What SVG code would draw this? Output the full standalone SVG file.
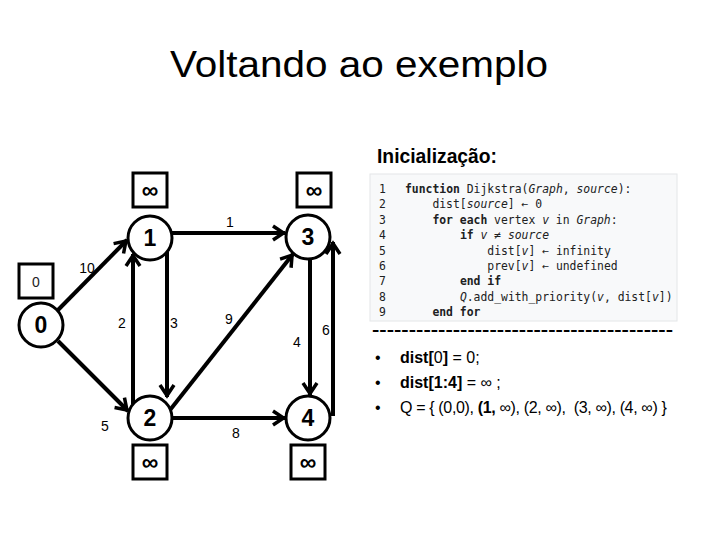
<svg xmlns="http://www.w3.org/2000/svg" width="720" height="540" viewBox="0 0 720 540">
<style>
  .title{font-family:"Liberation Sans",Arial,sans-serif;font-size:36px;fill:#000}
  .sub{font-family:"Liberation Sans",Arial,sans-serif;font-size:20px;font-weight:bold;fill:#000}
  .node circle{fill:#fff;stroke:#000;stroke-width:3}
  .nlbl{font-family:"Liberation Sans",Arial,sans-serif;font-size:23px;font-weight:bold;text-anchor:middle;fill:#000}
  .box rect{fill:#fff;stroke:#000;stroke-width:3}
  .inf{font-family:"Liberation Sans",Arial,sans-serif;font-size:23px;font-weight:bold;text-anchor:middle;fill:#000}
  .zero{font-family:"Liberation Sans",Arial,sans-serif;font-size:14px;text-anchor:middle;fill:#222}
  .edge{stroke:#000;stroke-width:4;fill:none;marker-end:url(#arr)}
  .elbl{font-family:"Liberation Sans",Arial,sans-serif;font-size:14px;text-anchor:middle;fill:#000}
  .code{font-family:"DejaVu Sans Mono","Liberation Mono",monospace;font-size:11.4px;fill:#202122}
  .b{font-weight:bold}
  .i{font-style:italic}
  .bul{font-family:"Liberation Sans",Arial,sans-serif;font-size:16px;fill:#000}
</style>
<defs>
  <marker id="arr" markerUnits="userSpaceOnUse" markerWidth="20" markerHeight="20" viewBox="-16 -10 20 20" refX="0" refY="0" orient="auto">
    <path d="M-12,-7 L-1.5,0 L-12,7" fill="none" stroke="#000" stroke-width="3.5" stroke-linejoin="miter"/>
  </marker>
</defs>

<text class="title" x="170" y="77" textLength="378" lengthAdjust="spacingAndGlyphs">Voltando ao exemplo</text>
<text class="sub" x="377" y="163" textLength="120" lengthAdjust="spacingAndGlyphs">Inicialização:</text>

<g id="connectors">
  <line class="edge" x1="58" y1="310" x2="127" y2="240"/>
  <line class="edge" x1="58" y1="341" x2="128" y2="411"/>
  <line class="edge" x1="172" y1="233" x2="285" y2="233"/>
  <line class="edge" x1="133" y1="404" x2="133" y2="254"/>
  <line class="edge" x1="167" y1="252" x2="167" y2="397"/>
  <line class="edge" x1="170" y1="410" x2="293" y2="254"/>
  <line class="edge" x1="172" y1="418" x2="285" y2="418"/>
  <line class="edge" x1="310" y1="259" x2="310" y2="395"/>
  <line class="edge" x1="333" y1="416" x2="333" y2="242"/>
  <text class="elbl" x="230" y="227">1</text>
  <text class="elbl" x="87" y="273">10</text>
  <text class="elbl" x="122" y="328">2</text>
  <text class="elbl" x="174" y="328">3</text>
  <text class="elbl" x="229" y="324">9</text>
  <text class="elbl" x="297" y="347">4</text>
  <text class="elbl" x="326" y="335">6</text>
  <text class="elbl" x="105" y="431">5</text>
  <text class="elbl" x="236" y="438">8</text>
</g>

<g id="node-0" class="node"><circle cx="41" cy="325" r="22"/><text class="nlbl" x="41" y="333">0</text></g>
<g id="node-1" class="node"><circle cx="150" cy="238" r="22"/><text class="nlbl" x="150" y="246">1</text></g>
<g id="node-2" class="node"><circle cx="150" cy="418" r="22"/><text class="nlbl" x="150" y="426">2</text></g>
<g id="node-3" class="node"><circle cx="308" cy="237" r="22"/><text class="nlbl" x="308" y="245">3</text></g>
<g id="node-4" class="node"><circle cx="308" cy="418" r="22"/><text class="nlbl" x="308" y="426">4</text></g>

<g id="dist-0" class="box"><rect x="19" y="264" width="34" height="34"/><text class="zero" x="36" y="287">0</text></g>
<g id="dist-1" class="box"><rect x="133" y="173" width="34" height="34"/><text class="inf" x="150" y="197.5">∞</text></g>
<g id="dist-3" class="box"><rect x="297" y="173" width="34" height="34"/><text class="inf" x="314" y="197.5">∞</text></g>
<g id="dist-2" class="box"><rect x="133" y="445" width="34" height="34"/><text class="inf" x="150" y="469.5">∞</text></g>
<g id="dist-4" class="box"><rect x="291" y="445" width="34" height="34"/><text class="inf" x="308" y="469.5">∞</text></g>

<g id="code">
  <rect x="370" y="174" width="307" height="147" fill="#f8f9fa" stroke="#e4e6e8" stroke-width="1"/>
  <text class="code" x="379" y="193">1</text>
  <text class="code" x="379" y="208.4">2</text>
  <text class="code" x="379" y="223.8">3</text>
  <text class="code" x="379" y="239.2">4</text>
  <text class="code" x="379" y="254.6">5</text>
  <text class="code" x="379" y="270">6</text>
  <text class="code" x="379" y="285.4">7</text>
  <text class="code" x="379" y="300.8">8</text>
  <text class="code" x="379" y="316.2">9</text>
  <text class="code" x="405" y="193"><tspan class="b">function</tspan> Dijkstra(<tspan class="i">Graph</tspan>, <tspan class="i">source</tspan>):</text>
  <text class="code" x="432.4" y="208.4">dist[<tspan class="i">source</tspan>] ← 0</text>
  <text class="code" x="432.4" y="223.8"><tspan class="b">for each</tspan> vertex <tspan class="i">v</tspan> in <tspan class="i">Graph</tspan>:</text>
  <text class="code" x="459.9" y="239.2"><tspan class="b">if</tspan> <tspan class="i">v</tspan> ≠ <tspan class="i">source</tspan></text>
  <text class="code" x="487.3" y="254.6">dist[<tspan class="i">v</tspan>] ← infinity</text>
  <text class="code" x="487.3" y="270">prev[<tspan class="i">v</tspan>] ← undefined</text>
  <text class="code b" x="459.9" y="285.4">end if</text>
  <text class="code" x="459.9" y="300.8"><tspan class="i">Q</tspan>.add_with_priority(<tspan class="i">v</tspan>, dist[<tspan class="i">v</tspan>])</text>
  <text class="code b" x="432.4" y="316.2">end for</text>
</g>

<g id="notes">
  <text class="bul b" x="372" y="335" textLength="301" lengthAdjust="spacingAndGlyphs">-----------------------------------------</text>
  <text class="bul" x="375" y="363">•</text>
  <text class="bul" x="375" y="388">•</text>
  <text class="bul" x="375" y="413">•</text>
  <text class="bul" x="400" y="363"><tspan class="b">dist[</tspan>0<tspan class="b">]</tspan> = 0;</text>
  <text class="bul" x="400" y="388"><tspan class="b">dist[1:4]</tspan> = ∞ ;</text>
  <text class="bul" x="400" y="413" letter-spacing="-0.35" xml:space="preserve">Q = { (0,0), <tspan class="b">(1,</tspan> ∞), (2, ∞),  (3, ∞), (4, ∞) }</text>
</g>
</svg>
